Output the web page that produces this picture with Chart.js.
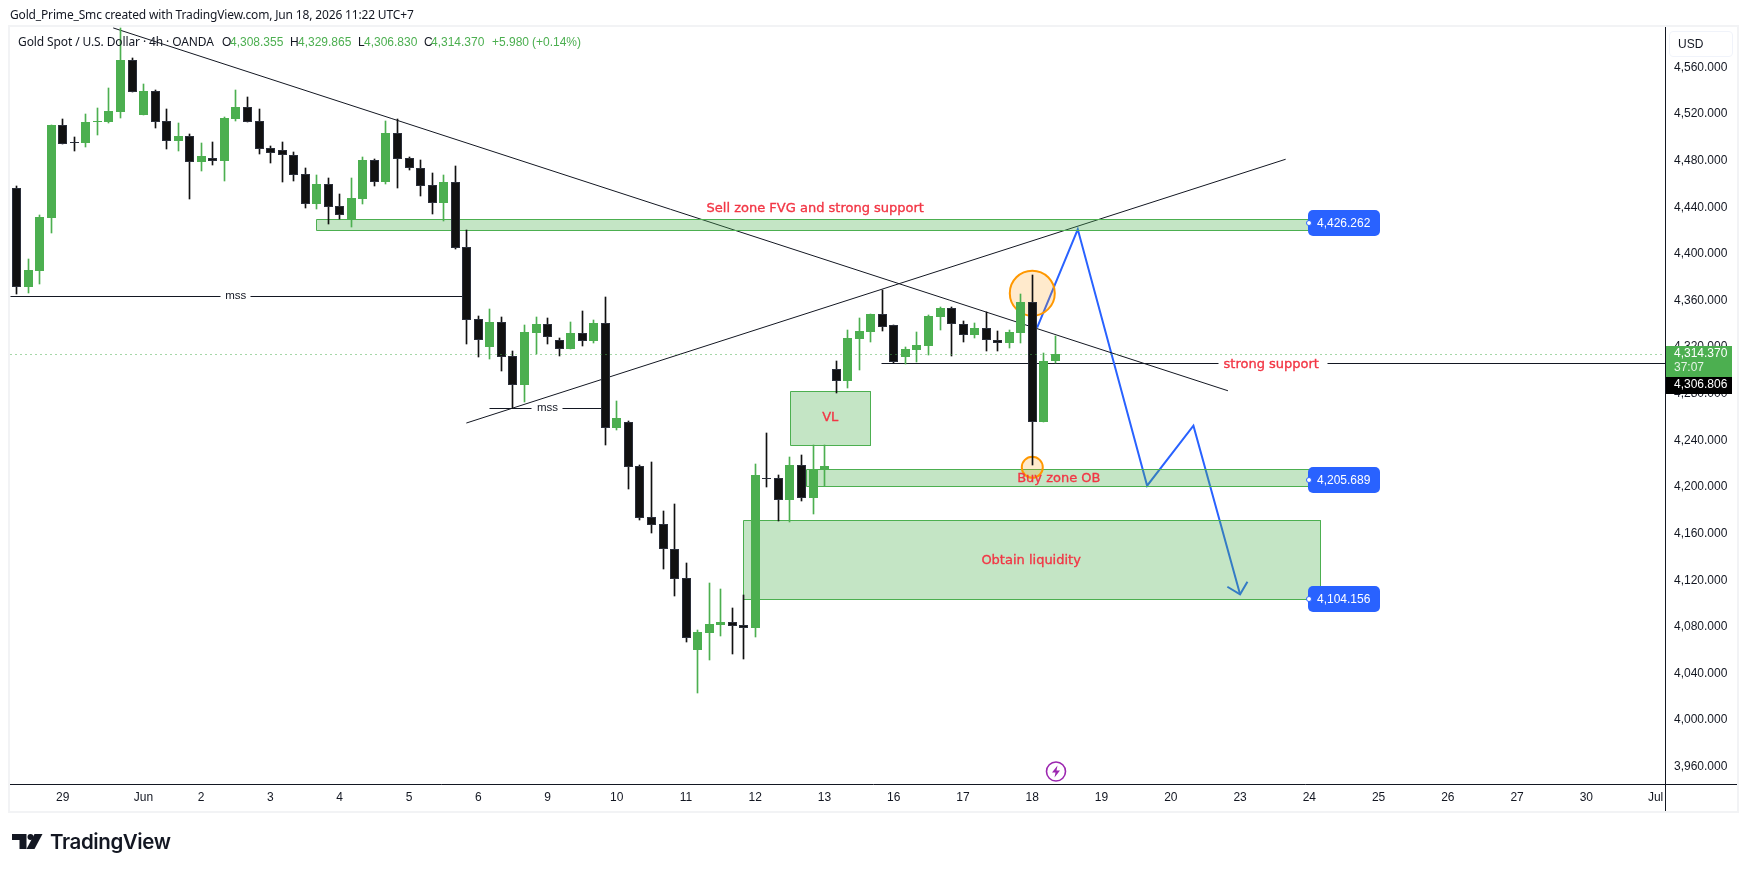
<!DOCTYPE html>
<html>
<head>
<meta charset="utf-8">
<title>Gold Spot / U.S. Dollar</title>
<script src="https://cdn.jsdelivr.net/npm/chart.js@4/dist/chart.umd.min.js"></script>
<style>
  html, body { margin: 0; padding: 0; background: #fff; }
  body { width: 1747px; height: 872px; position: relative; overflow: hidden; font-family: 'Liberation Sans', sans-serif; color: #131722; }
  #frame { position: absolute; left: 8px; top: 25px; width: 1727px; height: 784px; border: 2px solid #f2f3f5; }
  #chart { position: absolute; left: 0; top: 0; }
  .txt { position: absolute; white-space: nowrap; font-size: 12px; line-height: 14px; }
  .up { color: #4caf50; }
  #usd { position: absolute; left: 1669px; top: 31px; width: 62px; height: 24px; border: 1px solid #f0f3fa; border-radius: 4px; font-size: 12px; line-height: 24px; text-indent: 8px; }
  #logotext { position: absolute; left: 50px; top: 830px; font: 600 20.5px/24px Inter, sans-serif; letter-spacing: -0.4px; color: #131722; }
</style>
</head>
<body>
<div id="frame"></div>
<canvas id="chart" width="1747" height="872"></canvas>

<div class="txt" style="left:10px;top:8px;font-family:'Noto Sans';letter-spacing:-0.16px">Gold_Prime_Smc created with TradingView.com, Jun 18, 2026 11:22 UTC+7</div>
<div class="txt" style="left:18px;top:35px;font-family:'Noto Sans';letter-spacing:-0.11px">Gold Spot / U.S. Dollar · 4h · OANDA</div>
<div class="txt" style="left:222px;top:35px">O</div><div class="txt up" style="left:230px;top:35px">4,308.355</div>
<div class="txt" style="left:290px;top:35px">H</div><div class="txt up" style="left:298px;top:35px">4,329.865</div>
<div class="txt" style="left:358px;top:35px">L</div><div class="txt up" style="left:364px;top:35px">4,306.830</div>
<div class="txt" style="left:424px;top:35px">C</div><div class="txt up" style="left:431px;top:35px">4,314.370</div>
<div class="txt up" style="left:492px;top:35px">+5.980</div>
<div class="txt up" style="left:532px;top:35px">(+0.14%)</div>
<div id="usd">USD</div>

<svg style="position:absolute;left:1044px;top:760px" width="24" height="24" viewBox="0 0 24 24">
  <circle cx="12" cy="11.5" r="9.5" fill="#fff" stroke="#9c27b0" stroke-width="1.6"/>
  <path d="M13.5 5.5 L8 12.5 H11.5 L10.5 17.5 L16 10.5 H12.5 Z" fill="#9c27b0"/>
</svg>
<svg style="position:absolute;left:12px;top:834px" width="31" height="16" viewBox="0 0 31 16">
  <path d="M0 0 H14.5 V15 H7.5 V6 H0 Z" fill="#131722"/>
  <circle cx="18.5" cy="3" r="3" fill="#131722"/>
  <path d="M22.5 0 H30.5 L22.5 15 H14.5 Z" fill="#131722"/>
</svg>
<div id="logotext">TradingView</div>

<script>
// candles, oldest first, 4h bars
var opens = [4456.4,4372.0,4385.7,4431.2,4510.4,4495.8,4495.5,4513.3,4513.3,4522.2,
  4566.5,4519.3,4539.9,4513.9,4497.0,4501.3,4479.2,4482.1,4479.8,4515.9,
  4525.9,4513.9,4490.7,4489.0,4484.7,4468.4,4443.2,4459.8,4440.9,4429.2,
  4447.5,4480.4,4462.1,4503.6,4482.1,4473.5,4458.9,4444.0,4461.5,4405.7,
  4344.0,4320.5,4341.4,4312.2,4287.9,4332.5,4339.7,4326.0,4318.8,4332.0,
  4325.7,4340.5,4251.0,4255.6,4217.8,4174.0,4168.0,4146.6,4121.7,4060.4,
  4075.0,4081.9,4083.9,4081.3,4079.3,4207.8,4207.5,4189.2,4218.7,4190.5,
  4215.1,4301.3,4291.2,4327.3,4333.3,4348.2,4338.7,4311.8,4317.9,4321.3,
  4346.2,4353.3,4339.6,4330.7,4336.2,4326.2,4323.9,4332.4,4358.5,4256.1,
  4308.355];
var highs = [4458.4,4395.7,4433.5,4510.7,4515.9,4500.4,4520.2,4525.3,4542.5,4594.0,
  4567.9,4545.9,4540.8,4524.4,4512.4,4502.7,4495.3,4496.1,4517.3,4540.8,
  4534.7,4524.4,4492.7,4496.1,4487.2,4473.8,4467.8,4465.2,4451.5,4465.2,
  4483.2,4481.5,4514.1,4515.9,4483.2,4480.7,4469.5,4467.8,4475.5,4420.6,
  4346.8,4352.6,4346.0,4316.8,4339.1,4346.0,4345.1,4327.7,4341.7,4351.1,
  4343.4,4363.1,4273.9,4256.7,4218.9,4221.5,4179.5,4185.5,4134.8,4077.3,
  4117.7,4112.5,4096.2,4107.4,4219.8,4246.4,4210.4,4225.8,4227.5,4235.7,
  4235.7,4308.1,4334.7,4345.0,4348.5,4369.1,4338.7,4320.1,4333.0,4347.6,
  4354.5,4354.5,4342.5,4340.7,4349.9,4333.9,4334.7,4365.6,4381.9,4315.0,
  4329.865];
var lows = [4365.7,4366.8,4374.5,4418.3,4494.7,4488.7,4492.1,4502.4,4512.7,4517.0,
  4539.3,4519.3,4508.4,4490.4,4488.7,4447.2,4471.2,4476.7,4462.6,4514.1,
  4513.6,4486.1,4478.1,4461.8,4462.6,4439.5,4438.6,4426.0,4430.0,4423.2,
  4442.9,4458.4,4460.1,4456.6,4472.1,4449.8,4434.3,4428.3,4404.6,4322.7,
  4311.9,4310.2,4299.9,4267.6,4273.3,4314.5,4323.1,4312.8,4318.8,4321.4,
  4323.9,4236.4,4249.3,4198.6,4172.0,4160.9,4130.0,4106.8,4067.3,4023.5,
  4051.9,4072.5,4057.0,4052.7,4071.6,4200.4,4171.2,4170.3,4188.3,4177.1,
  4200.8,4280.4,4285.2,4300.7,4324.7,4334.2,4306.1,4305.6,4307.6,4313.6,
  4334.7,4312.7,4324.7,4328.2,4317.0,4317.0,4319.6,4323.9,4218.9,4256.1,
  4306.83];
var closes = [4372.0,4386.3,4431.5,4510.7,4494.7,4495.0,4513.3,4514.1,4522.7,4566.5,
  4539.3,4539.9,4513.6,4497.3,4501.3,4479.2,4484.1,4480.1,4516.7,4526.2,
  4513.6,4490.4,4487.0,4485.2,4468.1,4443.2,4460.1,4440.6,4433.8,4447.8,
  4480.4,4462.1,4503.6,4481.8,4474.1,4458.6,4444.0,4461.5,4405.4,4343.6,
  4326.5,4341.4,4311.9,4287.9,4332.8,4339.7,4329.1,4318.8,4332.0,4325.7,
  4340.5,4251.0,4259.0,4217.5,4173.7,4167.7,4146.6,4121.4,4070.8,4075.3,
  4082.5,4083.9,4081.0,4079.3,4210.4,4207.2,4189.2,4218.9,4190.9,4215.4,
  4218.0,4291.2,4327.9,4333.9,4348.5,4337.6,4307.6,4318.4,4321.9,4346.8,
  4353.6,4339.6,4330.2,4336.2,4325.9,4323.9,4332.7,4358.5,4256.1,4307.8,
  4314.37];

var priceTicks = [3960,4000,4040,4080,4120,4160,4200,4240,4280,4320,4360,4400,4440,4480,4520,4560];
var timeTicks = [4,11,16,22,28,34,40,46,52,58,64,70,76,82,88,94,100,106,112,118,124,130,136,142];
var timeLabels = ['29','Jun','2','3','4','5','6','9','10','11','12','13','16','17','18','19','20','23','24','25','26','27','30','Jul'];

// drawings in bar index / price
var zoneSell = [26.0, 112.0, 4429.8, 4420.4];
var zoneBuy = [68.4, 112.0, 4215.2, 4200.6];
var zoneLiquidity = [63.0, 113.0, 4171.4, 4103.6];
var zoneVL = [67.05, 74.0, 4282.2, 4235.7];
var trendDown = [[8.38, 4594.0], [104.95, 4282.6]];
var trendUp = [[38.97, 4254.9], [109.95, 4481.3]];
var mssHigh = [[-0.57, 17.7], [20.3, 38.65], 4364.0];
var mssLow = [[40.93, 44.64], [47.29, 50.66], 4267.6];
var supportLevel = [[74.95, 104.1], [113.6, 143], 4306.806];
var lastPrice = 4314.37;
var plannedPath = [[88.42, 4336.7], [91.94, 4421.2], [97.95, 4201.1], [101.96, 4252.6], [106.0, 4107.9]];
var arrowHead = [[104.9, 4114.4], [106.0, 4107.9], [106.64, 4118.7]];
var circles = [[88.0, 4366.3], [88.0, 4216.9]];
var priceTags = [[4426.262, '4,426.262'], [4205.689, '4,205.689'], [4104.156, '4,104.156']];
var redNotes = [
  ['Sell zone FVG and strong support', 69.2, 4440.0],
  ['VL', 70.5, 4260.3],
  ['Buy zone OB', 90.3, 4208.3],
  ['Obtain liquidity', 87.9, 4137.9],
  ['strong support', 108.7, 4306.0]
];
var mssNotes = [['mss', 19.0, 4364.0], ['mss', 46.0, 4267.6]];

var GREEN = '#4caf50', BLACK = '#111111';
var INK = '#131722', RED = '#f23645';

function isUp(i) { return closes[i] >= opens[i]; }
function toPoints(list) { return list.map(function (p) { return { x: p[0], y: p[1] }; }); }

function zoneDataset(z) {
  return {
    type: 'line', order: 4, snap: true,
    data: [{ x: z[0], y: z[2] }, { x: z[1], y: z[2] }, { x: z[1], y: z[3] }, { x: z[0], y: z[3] }, { x: z[0], y: z[2] }],
    borderColor: GREEN, borderWidth: 1, pointRadius: 0, tension: 0,
    backgroundColor: 'rgba(76,175,80,0.33)', fill: 'shape'
  };
}
function lineDataset(points, color, width, snap) {
  return { type: 'line', order: 6, snap: !!snap, data: points, borderColor: color, borderWidth: width, pointRadius: 0, tension: 0, fill: false };
}
function levelDatasets(level) {
  return [level[0], level[1]].map(function (seg) {
    return lineDataset([{ x: seg[0], y: level[2] }, { x: seg[1], y: level[2] }], INK, 1, true);
  });
}

var datasets = [
  {
    label: 'Wick', order: 2, grouped: false, barThickness: 1, borderWidth: 0, snap: true,
    data: opens.map(function (o, i) { return { x: i, y: [lows[i], highs[i]] }; }),
    backgroundColor: opens.map(function (o, i) { return isUp(i) ? GREEN : BLACK; })
  },
  {
    label: 'Body', order: 1, grouped: false, barThickness: 9, borderWidth: 1, borderSkipped: false, inflateAmount: 0, snap: true,
    data: opens.map(function (o, i) { return { x: i, y: [o, closes[i]] }; }),
    backgroundColor: opens.map(function (o, i) { return isUp(i) ? GREEN : BLACK; }),
    borderColor: opens.map(function (o, i) { return isUp(i) ? GREEN : '#2a2e39'; })
  },
  zoneDataset(zoneSell), zoneDataset(zoneBuy), zoneDataset(zoneLiquidity), zoneDataset(zoneVL),
  lineDataset(toPoints(trendDown), INK, 1),
  lineDataset(toPoints(trendUp), INK, 1),
  lineDataset(toPoints(plannedPath), '#2962ff', 2),
  lineDataset(toPoints(arrowHead), '#2962ff', 2),
  {
    type: 'line', order: 3, showLine: false, data: toPoints(circles),
    pointRadius: [22.5, 10.5], pointBorderWidth: 2, pointBorderColor: '#ff9800', pointBackgroundColor: 'rgba(255,152,0,0.2)'
  },
  {
    type: 'line', order: 0, snap: true, data: [{ x: -0.57, y: lastPrice }, { x: 143, y: lastPrice }],
    borderColor: GREEN, borderWidth: 1, borderDash: [1, 4], pointRadius: 0
  }
].concat(levelDatasets(mssHigh), levelDatasets(mssLow), levelDatasets(supportLevel));

// TradingView keeps bars and zone edges on whole pixels
var snapPlugin = {
  id: 'snap',
  beforeDatasetsDraw: function (chart) {
    chart.data.datasets.forEach(function (ds, d) {
      if (!ds.snap) return;
      chart.getDatasetMeta(d).data.forEach(function (el) {
        el.x = Math.floor(el.x + 0.1) + 0.5;
        if (el.base !== undefined && ds.type !== 'line') {
          el.y = Math.round(el.y);
          el.base = Math.round(el.base);
        } else {
          el.y = Math.round(el.y) + 0.5;
        }
      });
    });
  }
};

function roundBox(ctx, x, y, w, h, r, color) {
  ctx.fillStyle = color;
  ctx.beginPath();
  ctx.roundRect(x, y, w, h, r);
  ctx.fill();
}

var labelPlugin = {
  id: 'labels',
  afterDraw: function (chart) {
    var ctx = chart.ctx, xs = chart.scales.x, ys = chart.scales.y;
    ctx.save();
    ctx.textBaseline = 'middle';

    // notes on the chart
    ctx.textAlign = 'center';
    ctx.font = "13px 'DejaVu Sans', sans-serif";
    ctx.fillStyle = RED;
    ctx.strokeStyle = RED;
    ctx.lineWidth = 0.35;
    redNotes.forEach(function (n) {
      var x = xs.getPixelForValue(n[1]), y = ys.getPixelForValue(n[2]) + 1;
      ctx.fillText(n[0], x, y);
      ctx.strokeText(n[0], x, y);
    });
    ctx.font = "11.5px 'Liberation Sans', sans-serif";
    ctx.fillStyle = INK;
    mssNotes.forEach(function (n) {
      ctx.fillText(n[0], xs.getPixelForValue(n[1]), ys.getPixelForValue(n[2]));
    });

    // blue price tags on the right of the zones
    ctx.textAlign = 'left';
    ctx.font = "12px 'Liberation Sans', sans-serif";
    priceTags.forEach(function (t) {
      var y = Math.round(ys.getPixelForValue(t[0])), x = 1308;
      roundBox(ctx, x, y - 13, 72, 26, 5, '#2962ff');
      ctx.fillStyle = '#fff';
      ctx.fillText(t[1], x + 9, y + 0.5);
      ctx.beginPath();
      ctx.arc(x + 1, y, 2.5, 0, Math.PI * 2);
      ctx.fillStyle = '#fff';
      ctx.fill();
      ctx.strokeStyle = '#2962ff';
      ctx.lineWidth = 1;
      ctx.stroke();
    });

    // axis frame lines run past the plot
    ctx.strokeStyle = INK;
    ctx.lineWidth = 1;
    ctx.beginPath();
    ctx.moveTo(10, 784.5); ctx.lineTo(1737, 784.5);
    ctx.moveTo(1665.5, 27); ctx.lineTo(1665.5, 811);
    ctx.stroke();

    // last price and support tags on the axis
    ctx.fillStyle = GREEN;
    ctx.fillRect(1666, 346, 66, 31);
    ctx.fillStyle = '#000';
    ctx.fillRect(1666, 377, 66, 17);
    ctx.font = "12px 'Liberation Sans', sans-serif";
    ctx.fillStyle = '#fff';
    ctx.fillText('4,314.370', 1674, 354);
    ctx.fillText('4,306.806', 1674, 385);
    ctx.fillStyle = 'rgba(255,255,255,0.85)';
    ctx.fillText('37:07', 1674, 368);
    ctx.restore();
  }
};

new Chart(document.getElementById('chart').getContext('2d'), {
  type: 'bar',
  data: { datasets: datasets },
  plugins: [snapPlugin, labelPlugin],
  options: {
    responsive: false,
    animation: false,
    events: [],
    layout: { autoPadding: false, padding: { left: 10, top: 27, right: 10, bottom: 61 } },
    plugins: { legend: { display: false }, tooltip: { enabled: false }, title: { display: false } },
    scales: {
      x: {
        type: 'linear', offset: false, min: -0.563, max: 142.9,
        grid: { display: false, drawTicks: false }, border: { display: false },
        afterBuildTicks: function (scale) { scale.ticks = timeTicks.map(function (v) { return { value: v }; }); },
        afterFit: function (scale) { scale.height = 27; scale.paddingLeft = 0; scale.paddingRight = 0; },
        ticks: {
          autoSkip: false, maxRotation: 0, padding: 6, color: INK,
          font: { family: "'Liberation Sans', sans-serif", size: 12 },
          callback: function (v, i) { return timeLabels[i]; }
        }
      },
      y: {
        position: 'right', min: 3945.1, max: 4594.8,
        grid: { display: false, drawTicks: false }, border: { display: false },
        afterBuildTicks: function (scale) { scale.ticks = priceTicks.map(function (v) { return { value: v }; }); },
        afterFit: function (scale) { scale.width = 71; scale.paddingTop = 0; scale.paddingBottom = 0; },
        ticks: {
          padding: 8, color: INK,
          font: { family: "'Liberation Sans', sans-serif", size: 12 },
          callback: function (v) { return v.toLocaleString('en-US', { minimumFractionDigits: 3 }); }
        }
      }
    }
  }
});
</script>
</body>
</html>
